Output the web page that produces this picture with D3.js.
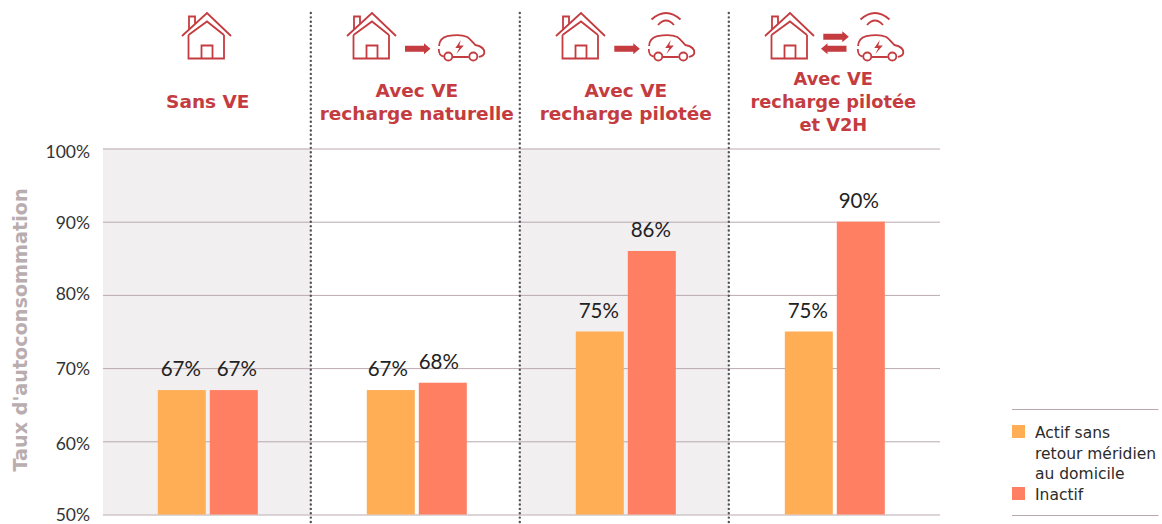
<!DOCTYPE html>
<html><head><meta charset="utf-8">
<script src="https://cdn.jsdelivr.net/npm/d3@7"></script>
<style>html,body{margin:0;padding:0;background:#fff}svg{display:block}</style>
</head><body><svg id="c" width="1162" height="524"></svg>
<script>
const categories = ["Sans VE","Avec VE recharge naturelle","Avec VE recharge pilotée","Avec VE recharge pilotée et V2H"];
const titleLines = [["Sans VE"],["Avec VE","recharge naturelle"],["Avec VE","recharge pilotée"],["Avec VE","recharge pilotée","et V2H"]];
const seriesNames = ["Actif sans retour méridien au domicile","Inactif"];
const actif = [67,67,75,75];
const inactif = [67,68,86,90];
const yTicks = [50,60,70,80,90,100];
const legendLines = [["Actif sans","retour méridien","au domicile"],["Inactif"]];
const colors = ["#ffae55","#ff7f62"];
const RED = "#c43c40";

const svg = d3.select("#c");
const x = d3.scaleBand().domain(categories).range([103.3,939.3]);
const inner = d3.scaleBand().domain(seriesNames).range([-50,50]).paddingInner(4/52);
const y = d3.scaleLinear().domain([50,100]).range([514.5,148.5]);
const sepX = d => x(d)-1.5;

// shaded panels
svg.append("rect").attr("x",103).attr("y",y(100)).attr("width",sepX(categories[1])-103).attr("height",y(50)-y(100)).attr("fill","#f1eff0");
svg.append("rect").attr("x",sepX(categories[2])).attr("y",y(100)).attr("width",x.step()).attr("height",y(50)-y(100)).attr("fill","#f1eff0");

// grid & axis labels
const tickNudge = {50:0,60:1.5,70:0,80:-1.5,90:0,100:3};
const axis = d3.axisLeft(y).tickValues(yTicks).tickSize(-837).tickPadding(13).tickFormat(d=>d+"%");
const gA = svg.append("g").attr("transform","translate(103,0)").call(axis);
gA.select(".domain").remove();
gA.selectAll(".tick line").attr("stroke","#b9a9ae").attr("stroke-width",1);
gA.selectAll(".tick text").attr("fill","#333").style("font","400 17.5px Lato").attr("dy","0.36em")
  .attr("y",d=>tickNudge[d]);

// bars
const rows = categories.map((c,i)=>({c,vals:[actif[i],inactif[i]]}));
const labelNudge = [[-1,3],[-3,-4],[-1,-1],[-1,-2]];
const g = svg.selectAll("g.grp").data(rows).join("g").attr("class","grp")
  .attr("transform",d=>`translate(${x(d.c)+x.bandwidth()/2},0)`);
g.selectAll("rect").data(d=>d.vals.map((v,i)=>({v,s:seriesNames[i],i}))).join("rect")
  .attr("x",d=>inner(d.s)).attr("width",inner.bandwidth())
  .attr("y",d=>y(d.v)).attr("height",d=>y(50)-y(d.v)).attr("fill",d=>colors[d.i]);
g.each(function(r,gi){
  d3.select(this).selectAll("text").data(r.vals.map((v,i)=>({v,s:seriesNames[i],i}))).join("text")
   .attr("x",d=>inner(d.s)+inner.bandwidth()/2+labelNudge[gi][d.i]).attr("y",d=>y(d.v)-14)
   .attr("text-anchor","middle").attr("fill","#222").style("font","400 20.5px Lato").text(d=>d.v+"%");
});

// dotted separators
svg.selectAll("line.sep").data(categories.slice(1)).join("line")
  .attr("x1",sepX).attr("x2",sepX).attr("y1",13).attr("y2",524)
  .attr("stroke","#55505a").attr("stroke-width",2.4).attr("stroke-linecap","round").attr("stroke-dasharray","0 4.35");

// category titles
const bases = [[108],[97,119.5],[97,119.5],[85,108,131]];
const titleSize = [18.5,18.5,18.5,17.8];
titleLines.forEach((ls,i)=>{
  ls.forEach((t,j)=>svg.append("text").attr("x",x(categories[i])+x.bandwidth()/2+(i===3?-1.5:0)).attr("y",bases[i][j])
    .attr("text-anchor","middle").attr("fill",RED).style("font",`700 ${titleSize[i]}px 'DejaVu Sans'`).text(t));
});

// icons
const ic = svg.append("g").attr("fill","none").attr("stroke",RED).attr("stroke-width",1.8).attr("stroke-linejoin","miter");
function house(cx){
  const h = ic.append("g").attr("transform",`translate(${cx},13)`);
  h.append("path").attr("d","M-25,23 L0,0 L24,23 M-18,16.6 V3.5 H-12 V11 M-18.5,22 L0,8.5 L17,22 M-18.5,22 V45.5 H17 V22 M-5.5,45.5 V32.5 H5.5 V45.5");
}
function car(lx){
  const c = ic.append("g").attr("transform",`translate(${lx},35)`);
  c.append("path").attr("d","M5.5,21.5 C2,21 0.5,19.5 0.5,14 M0.8,11 C1,6 4,2.5 9,1.2 C16,-0.2 24,-0.3 29,2 C32,4 34,7 37,10 C42,11 46.5,13 46,18 C45.5,20.5 43,21.5 40.5,21.8 M14.5,22 H30.5");
  c.append("circle").attr("cx",10).attr("cy",21.5).attr("r",4);
  c.append("circle").attr("cx",35).attr("cy",21.5).attr("r",4);
  c.append("path").attr("d","M22.5,5 L17,13 H21 L18,19 L25.5,10.5 H21 Z").attr("fill",RED).attr("stroke","none");
}
function wifi(cx){
  const w = ic.append("g").attr("transform",`translate(${cx},0)`);
  w.append("path").attr("d","M-14.5,19.5 Q0,6.5 14.5,19.5 M-8,25 Q0,16 8,25");
}
function arrow(x0,yy,dir){
  const L=25.5;
  const a = ic.append("g").attr("transform",`translate(${dir>0?x0:x0+L},${yy}) scale(${dir},1)`);
  a.append("path").attr("d",`M0,-3 H${L-6.5} V-5.5 L${L},0 L${L-6.5},5.5 V3 H0 Z`).attr("fill",RED).attr("stroke","none");
}
house(207);
house(372); arrow(405,48.7,1); car(438.3);
house(581); arrow(614.3,48.7,1); car(648.3); wifi(666);
house(790); arrow(823.3,36.7,1); arrow(821,48.7,-1); car(857.3); wifi(875);

// y-axis title
svg.append("text").attr("transform","translate(27,330) rotate(-90)").attr("text-anchor","middle")
  .attr("fill","#b9adb0").style("font","700 19.2px 'DejaVu Sans'").text("Taux d'autoconsommation");

// legend
svg.selectAll("line.lg").data([409.5,515.5]).join("line").attr("x1",1012).attr("x2",1158.5)
  .attr("y1",d=>d).attr("y2",d=>d).attr("stroke","#b9a9ae").attr("stroke-width",1);
const swY=[425,487], txtY=[438,500];
legendLines.forEach((ls,i)=>{
  svg.append("rect").attr("x",1012).attr("y",swY[i]).attr("width",13).attr("height",13).attr("fill",colors[i]);
  ls.forEach((t,j)=>svg.append("text").attr("x",1035).attr("y",txtY[i]+j*20.5).attr("fill","#2b2b2b")
    .style("font","400 15.5px 'DejaVu Sans'").text(t));
});
</script></body></html>
